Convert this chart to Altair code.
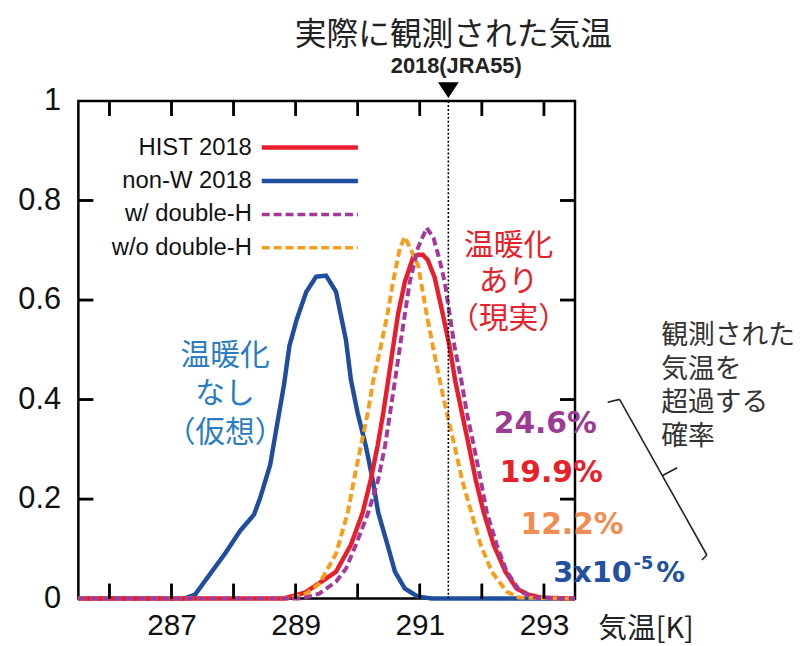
import altair as alt
import pandas as pd

# ---------------- data ----------------
X_DOMAIN = [285.5, 293.5]
Y_DOMAIN = [0, 1]
x_label_values = [287, 289, 291, 293]
x_tick_values = [286, 287, 288, 289, 290, 291, 292, 293]
y_label_values = [0, 0.2, 0.4, 0.6, 0.8, 1.0]
y_tick_values = [0.2, 0.4, 0.6, 0.8]
obs_temp = [291.46]

series_names = ["HIST 2018", "non-W 2018", "w/ double-H", "w/o double-H"]
series_colors = ["#e81e2c", "#1f4e9f", "#a4399a", "#f59e1b"]
series_dash = [[1, 0], [1, 0], [8, 4], [8, 4]]

hist_T = [285.5, 288.8, 289.15, 289.44, 289.65, 289.89, 290.08, 290.21, 290.32, 290.41,
          290.49, 290.57, 290.65, 290.76, 290.89, 290.97, 291.05, 291.13, 291.24, 291.37,
          291.48, 291.57, 291.68, 291.79, 291.9, 292.03, 292.19, 292.38, 292.56, 292.75,
          292.95, 293.5]
hist_p = [0, 0, 0.012, 0.036, 0.054, 0.108, 0.173, 0.239, 0.307, 0.372,
          0.438, 0.506, 0.572, 0.637, 0.685, 0.691, 0.691, 0.68, 0.645, 0.572,
          0.506, 0.438, 0.372, 0.307, 0.239, 0.173, 0.108, 0.054, 0.02, 0.008,
          0.002, 0]

nonw_T = [285.5, 287.2, 287.38, 287.59, 287.86, 288.11, 288.33, 288.43, 288.59, 288.7,
          288.81, 288.9, 289.02, 289.17, 289.33, 289.49, 289.65, 289.81, 289.89, 290.0,
          290.13, 290.24, 290.33, 290.48, 290.6, 290.76, 290.97, 291.2, 293.5]
nonw_p = [0, 0, 0.008, 0.044, 0.09, 0.137, 0.169, 0.203, 0.269, 0.349,
          0.428, 0.508, 0.562, 0.616, 0.647, 0.649, 0.617, 0.52, 0.44, 0.372,
          0.307, 0.239, 0.173, 0.108, 0.054, 0.02, 0.004, 0, 0]

wdh_T = [285.5, 289.1, 289.38, 289.65, 289.81, 289.97, 290.17, 290.33, 290.44, 290.52,
         290.6, 290.68, 290.76, 290.84, 290.97, 291.11, 291.22, 291.32, 291.4, 291.48,
         291.56, 291.67, 291.76, 291.87, 291.98, 292.08, 292.24, 292.4, 292.62, 292.85,
         293.5]
wdh_p = [0, 0, 0.01, 0.034, 0.06, 0.108, 0.173, 0.239, 0.307, 0.372,
         0.438, 0.506, 0.572, 0.637, 0.705, 0.745, 0.725, 0.68, 0.637, 0.572,
         0.506, 0.438, 0.372, 0.307, 0.239, 0.173, 0.108, 0.054, 0.014, 0.002,
         0]

wodh_T = [285.5, 288.9, 289.17, 289.38, 289.65, 289.84, 289.94, 290.05, 290.16, 290.25,
          290.37, 290.48, 290.57, 290.68, 290.76, 290.86, 290.97, 291.11, 291.24, 291.37,
          291.46, 291.56, 291.68, 291.83, 291.98, 292.16, 292.4, 292.6, 293.5]
wodh_p = [0, 0, 0.01, 0.03, 0.09, 0.173, 0.239, 0.307, 0.372, 0.438,
          0.506, 0.572, 0.637, 0.705, 0.727, 0.70, 0.671, 0.572, 0.488, 0.41,
          0.36, 0.307, 0.239, 0.173, 0.108, 0.054, 0.014, 0.002, 0]

series_T = [hist_T, nonw_T, wdh_T, wodh_T]
series_p = [hist_p, nonw_p, wdh_p, wodh_p]

pct_texts = ["24.6%", "19.9%", "12.2%"]
pct_colors = ["#9c3b92", "#e8202a", "#f28c50"]

# ---------------- layout constants ----------------
W, H = 501, 502
JP = "Noto Sans CJK JP"
LAT = "Liberation Sans"
TICK_PX = 15
TICK_W = 2.5

x_axis = alt.Axis(values=x_label_values, format="d", ticks=False, domain=False, grid=False,
                  labelFontSize=30, labelFont=LAT, labelColor="#111", labelPadding=12,
                  labelFlush=False, title="気温[K]", titleFont=JP, titleFontSize=29,
                  titleFontWeight="normal", titleColor="#222", titleX=524, titleY=30,
                  titleAlign="left", titleBaseline="middle")
y_axis = alt.Axis(values=y_label_values, format="~g", ticks=False, domain=False, grid=False,
                  labelFontSize=31, labelFont=LAT, labelColor="#111", labelPadding=18,
                  labelFlush=False, title=None)

xs = alt.Scale(domain=X_DOMAIN, nice=False, zero=False)
ys = alt.Scale(domain=Y_DOMAIN, nice=False, zero=False)


def X(field):
    return alt.X(f"{field}:Q", scale=xs, axis=x_axis)


def Y(field):
    return alt.Y(f"{field}:Q", scale=ys, axis=y_axis)


def px_x(v):
    # same linear mapping as the x scale (domain -> [0, W])
    return (v - X_DOMAIN[0]) / (X_DOMAIN[1] - X_DOMAIN[0]) * W


def px_y(v):
    return H - (v - Y_DOMAIN[0]) / (Y_DOMAIN[1] - Y_DOMAIN[0]) * H


one = pd.DataFrame({"a": [0]})


def label(text, x, y, size, color, font=JP, weight="normal", align="center"):
    return alt.Chart(one).mark_text(text=text, fontSize=size, color=color, font=font,
                                    fontWeight=weight, align=align, baseline="middle",
                                    clip=False).encode(x=alt.value(x), y=alt.value(y))


def seg(x1, y1, x2, y2, color="black", width=2.5):
    return alt.Chart(one).mark_rule(color=color, strokeWidth=width, clip=False).encode(
        x=alt.value(x1), y=alt.value(y1), x2=alt.value(x2), y2=alt.value(y2))


def bar(x1, y1, x2, y2):
    return alt.Chart(one).mark_rect(color="black", opacity=1, clip=False).encode(
        x=alt.value(x1), y=alt.value(y1), x2=alt.value(x2), y2=alt.value(y2))


layers = []

# curves: draw blue first, then red, orange, purple
for i in [1, 0, 3, 2]:
    df = pd.DataFrame({"T": series_T[i], "p": series_p[i]})
    layers.append(
        alt.Chart(df).mark_line(color=series_colors[i], strokeWidth=4.5 if i < 2 else 4,
                                strokeDash=series_dash[i])
        .encode(x=X("T"), y=Y("p"), order="T:Q")
    )

# observed temperature line and marker
obs = pd.DataFrame({"T": obs_temp})
layers.append(alt.Chart(obs).mark_rule(color="black", strokeWidth=1.6, strokeDash=[2, 2])
              .encode(x=X("T"), y=alt.value(0), y2=alt.value(H)))
layers.append(alt.Chart(obs).mark_point(shape="M-1,-0.75L1,-0.75L0,0.75Z", filled=True,
                                        color="black", opacity=1, size=441, clip=False)
              .encode(x=X("T"), y=alt.value(-11)))
layers.append(alt.Chart(obs).mark_text(text="実際に観測された気温", font=JP, fontSize=32,
                                       color="#222", baseline="middle", dx=5, clip=False)
              .encode(x=X("T"), y=alt.value(-66)))
layers.append(alt.Chart(obs).mark_text(text="2018(JRA55)", font=LAT,
                                       fontWeight="bold", fontSize=22, color="#222",
                                       baseline="middle", dx=8, clip=False)
              .encode(x=X("T"), y=alt.value(-35)))

# inward ticks on all four sides (drawn as thin rules and thin filled rects)
hw = TICK_W / 2
for v in x_tick_values:
    xp = px_x(v)
    layers.append(seg(xp, H, xp, H - TICK_PX))
    layers.append(seg(xp, 0, xp, TICK_PX))
    layers.append(bar(xp - hw, H - TICK_PX, xp + hw, H))
    layers.append(bar(xp - hw, 0, xp + hw, TICK_PX))
for v in y_tick_values:
    yp = px_y(v)
    layers.append(seg(0, yp, TICK_PX, yp))
    layers.append(seg(W - TICK_PX, yp, W, yp))
    layers.append(bar(0, yp - hw, TICK_PX, yp + hw))
    layers.append(bar(W - TICK_PX, yp - hw, W, yp + hw))

# legend (labels left of line samples)
for i, name in enumerate(series_names):
    yy = 47 + i * 33.7
    layers.append(label(name, 175, yy, 24, "#111", font=LAT, align="right"))
    layers.append(alt.Chart(one).mark_rule(color=series_colors[i],
                                           strokeWidth=4.5 if i < 2 else 3.5,
                                           strokeDash=series_dash[i])
                  .encode(x=alt.value(185), x2=alt.value(282), y=alt.value(yy)))

# annotations
blue_txt = "#2b7cc1"
red_txt = "#e8202a"
for j, s in enumerate(["温暖化", "なし", "（仮想）"]):
    layers.append(label(s, 148, 257 + j * 39, 30, blue_txt))
for j, s in enumerate(["温暖化", "あり", "（現実）"]):
    layers.append(label(s, 434, 146 + j * 37, 30, red_txt))

pct_pos = [(471, 326), (477, 375), (498, 428)]
for s, c, (px, py) in zip(pct_texts, pct_colors, pct_pos):
    layers.append(label(s, px, py, 30, c, font="DejaVu Sans", weight="bold"))
layers.append(label("3x10", 479, 476, 29, "#2350a0", font="DejaVu Sans", weight="bold", align="left"))
layers.append(label("-5", 560, 467, 18, "#2350a0", font="DejaVu Sans", weight="bold", align="left"))
layers.append(label("%", 583, 476, 29, "#2350a0", font="DejaVu Sans", weight="bold", align="left"))

for j, s in enumerate(["観測された", "気温を", "超過する", "確率"]):
    layers.append(label(s, 588, 237 + j * 34, 27, "#333", align="left"))

# brace
brace = [((534, 304), (546, 301)), ((546, 301), (634, 458)),
         ((634, 458), (629, 463)), ((589, 378), (604, 370))]
for (x1, y1), (x2, y2) in brace:
    layers.append(seg(x1, y1, x2, y2, color="#222", width=1.6))

chart = (
    alt.layer(*layers)
    .properties(width=W, height=H, autosize=alt.AutoSizeParams(type="none"),
                padding={"left": 71, "top": 91, "right": 228, "bottom": 45})
    .configure_view(stroke="black", strokeWidth=2.5)
)

chart.save("out.html", embed_options={"renderer": "svg", "actions": False})
